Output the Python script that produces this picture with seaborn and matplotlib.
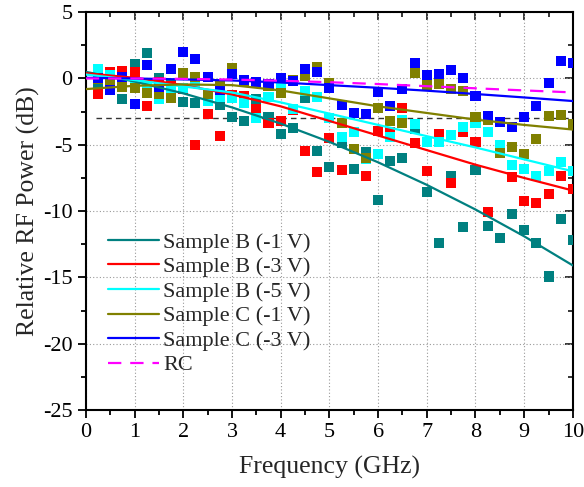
import numpy as np
import pandas as pd
import matplotlib
matplotlib.use("Agg")
import matplotlib.pyplot as plt
from matplotlib.lines import Line2D
from matplotlib.ticker import MultipleLocator
import seaborn as sns

# ---------------- data ----------------
freq = [0.25, 0.5, 0.75, 1.0, 1.25, 1.5, 1.75, 2.0, 2.25, 2.5,
        2.75, 3.0, 3.25, 3.5, 3.75, 4.0, 4.25, 4.5, 4.75, 5.0,
        5.25, 5.5, 5.75, 6.0, 6.25, 6.5, 6.75, 7.0, 7.25, 7.5,
        7.75, 8.0, 8.25, 8.5, 8.75, 9.0, 9.25, 9.5, 9.75, 10.0]

b1 = [-0.7, -0.1, -1.57, 1.07, 1.9, 0.06, -0.49, -1.75, -1.87, -1.5,
      -2.0, -2.88, -3.2, -1.55, -2.88, -4.2, -3.76, -1.44, -5.46, -6.7,
      -4.9, -6.85, -5.51, -9.16, -6.19, -5.97, -3.8, -8.53, -12.42, -7.35,
      -11.17, -6.9, -11.1, -12.0, -10.2, -11.4, -12.42, -14.93, -10.6, -12.2]
b3 = [-1.19, 0.51, 0.59, 0.51, -2.07, -0.24, -0.6, -0.8, -5.01, -2.68,
      -4.31, -1.24, -1.29, -2.32, -3.38, -3.2, -2.37, -5.46, -7.02, -4.5,
      -6.9, -4.06, -7.35, -3.96, -4.06, -2.2, -4.88, -6.95, -4.18, -7.9,
      -4.0, -4.76, -10.08, -5.51, -7.45, -9.21, -9.36, -8.7, -7.32, -8.3]
b5 = [0.7, 0.3, -0.1, -0.3, -0.55, -1.57, -0.87, -0.69, -0.36, -1.7,
      -1.37, -1.5, -1.87, -3.0, -1.37, -0.69, -2.3, -0.94, -1.42, -2.95,
      -4.38, -4.0, -6.1, -5.71, -4.38, -3.1, -3.45, -4.76, -4.8, -4.26,
      -3.63, -3.38, -4.0, -5.01, -6.52, -6.85, -7.35, -6.95, -6.27, -6.97]
c1 = [-0.04, -0.11, -0.62, -0.69, -1.12, -1.17, -1.49, 0.39, 0.14, -1.17,
      -0.54, 0.82, -0.19, -0.36, -0.57, -1.08, -0.11, 0.21, 0.84, -0.36,
      -3.38, -5.31, -5.97, -2.2, -3.2, -3.33, 0.44, -0.49, -0.41, -0.79,
      -0.92, -2.9, -3.13, -5.64, -5.14, -5.69, -4.58, -2.83, -2.75, -3.43]
c3 = [0.0, -0.87, 0.1, -1.95, 1.02, -0.62, 0.69, 1.97, 1.47, 0.09,
      -0.9, 0.34, -0.1, -0.3, -0.4, 0.0, -0.2, 0.69, 0.47, -0.74,
      -2.0, -2.57, -2.7, -1.0, -2.05, -0.79, 1.19, 0.26, 0.34, 0.64,
      0.0, -1.3, -2.8, -3.25, -3.63, -2.93, -2.05, -0.31, 1.32, 1.14]

fit_freq = [0, 1, 2, 3, 4, 5, 6, 7, 8, 9, 10]
fit_b1 = [0.5, -0.23, -1.12, -2.18, -3.4, -4.78, -6.32, -8.02, -9.88, -11.9, -14.1]
fit_b3 = [0.4, 0.05, -0.5, -1.2, -2.1, -3.2, -4.3, -5.4, -6.5, -7.5, -8.45]
fit_b5 = [0.3, -0.12, -0.6, -1.05, -1.8, -2.65, -3.5, -4.35, -5.2, -6.1, -7.0]
fit_c1 = [-0.8, -0.55, -0.45, -0.5, -0.9, -1.5, -2.1, -2.6, -3.1, -3.5, -3.85]
fit_c3 = [0.05, 0.0, -0.07, -0.15, -0.3, -0.5, -0.7, -0.92, -1.17, -1.43, -1.7]
rc = [0.0, 0.0, -0.03, -0.08, -0.17, -0.28, -0.42, -0.58, -0.74, -0.9, -1.05]

ref_freq = [0.2, 10.0]
ref_db = [-3.0, -3.0]

labels = ["Sample B (-1 V)", "Sample B (-3 V)", "Sample B (-5 V)",
          "Sample C (-1 V)", "Sample C (-3 V)"]
colors = ["#008080", "#FF0000", "#00FFFF", "#808000", "#0000FF"]
rc_label = "RC"
rc_color = "#FF00FF"

# ---------------- frames ----------------
pts = pd.concat([pd.DataFrame({"f": freq, "dB": v, "series": l})
                 for v, l in zip([b1, b3, b5, c1, c3], labels)], ignore_index=True)
fits = pd.concat([pd.DataFrame({"f": fit_freq, "dB": v, "series": l})
                  for v, l in zip([fit_b1, fit_b3, fit_b5, fit_c1, fit_c3], labels)],
                 ignore_index=True)
palette = dict(zip(labels, colors))

sns.set_theme(style="white")
plt.rcParams["font.family"] = ["Liberation Serif", "DejaVu Serif"]
plt.rcParams["axes.unicode_minus"] = False

fig = plt.figure(figsize=(5.84, 4.87), dpi=100)
ax = fig.add_axes([0.147, 0.158, 0.834, 0.817])

sns.scatterplot(data=pts, x="f", y="dB", hue="series", palette=palette,
                marker="s", s=52, edgecolor="none", legend=False, ax=ax, zorder=3)
sns.lineplot(data=fits, x="f", y="dB", hue="series", palette=palette,
             linewidth=1.6, legend=False, ax=ax, zorder=4)
sns.lineplot(x=fit_freq, y=rc, color=rc_color, linewidth=1.6,
             dashes=False, ax=ax, zorder=4)
ax.lines[-1].set_linestyle((0, (6, 4)))
sns.lineplot(x=ref_freq, y=ref_db, color="#333333", linewidth=1.0, ax=ax, zorder=2)
ax.lines[-1].set_linestyle((0, (4, 3)))

ax.set_xlim(0, 10)
ax.set_ylim(-25, 5)
ax.xaxis.set_major_locator(MultipleLocator(1))
ax.xaxis.set_minor_locator(MultipleLocator(0.5))
ax.yaxis.set_major_locator(MultipleLocator(5))
ax.yaxis.set_minor_locator(MultipleLocator(2.5))
ax.grid(True, which="major", linestyle=(0, (1, 2)), color="#999999", linewidth=0.8)
ax.set_axisbelow(True)
for s in ax.spines.values():
    s.set_linewidth(1.5)
    s.set_color("black")
ax.tick_params(which="both", direction="out", top=False, right=False,
               bottom=True, left=True, width=1.3, labelsize=16, colors="black")
ax.tick_params(which="major", length=6)
ax.tick_params(which="minor", length=3.5)

secx = ax.secondary_xaxis("top")
secx.xaxis.set_major_locator(MultipleLocator(1))
secx.xaxis.set_minor_locator(MultipleLocator(0.5))
secx.tick_params(which="both", direction="in", labeltop=False, width=1.3)
secx.tick_params(which="major", length=6)
secx.tick_params(which="minor", length=3.5)
secy = ax.secondary_yaxis("right")
secy.yaxis.set_major_locator(MultipleLocator(5))
secy.yaxis.set_minor_locator(MultipleLocator(2.5))
secy.tick_params(which="both", direction="in", labelright=False, width=1.3)
secy.tick_params(which="major", length=6)
secy.tick_params(which="minor", length=3.5)

ax.set_xlabel("Frequency (GHz)", fontsize=18.5, labelpad=10)
ax.set_ylabel("Relative RF Power (dB)", fontsize=18.5, labelpad=2)

handles = [Line2D([], [], color=c, linewidth=1.6) for c in colors]
handles.append(Line2D([], [], color=rc_color, linewidth=1.6, linestyle=(0, (6, 4))))
leg = ax.legend(handles, labels + [rc_label], loc="lower left",
                bbox_to_anchor=(0.045, 0.087), frameon=False, fontsize=16,
                handlelength=2.3, labelspacing=0.18, handletextpad=0.2,
                borderaxespad=0.0, borderpad=0.0)

fig.savefig("out.png", dpi=100)
